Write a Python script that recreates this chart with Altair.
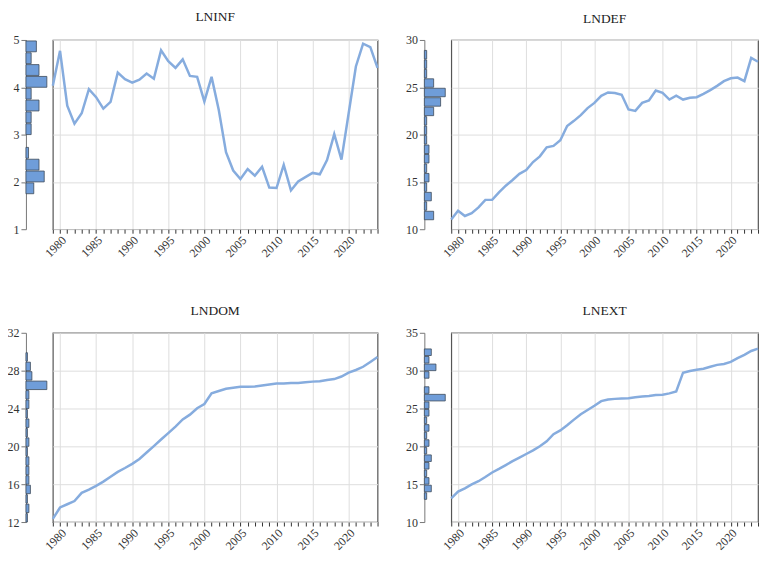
import altair as alt
import pandas as pd

years = list(range(1979, 2025))

lninf = [4.03, 4.77, 3.61, 3.23, 3.45, 3.96, 3.79, 3.55, 3.69, 4.31,
         4.17, 4.10, 4.16, 4.29, 4.18, 4.78, 4.55, 4.41, 4.59, 4.24,
         4.22, 3.70, 4.22, 3.52, 2.63, 2.24, 2.06, 2.27, 2.13, 2.32,
         1.88, 1.87, 2.36, 1.82, 2.01, 2.10, 2.19, 2.16, 2.46, 3.01,
         2.47, 3.45, 4.44, 4.92, 4.85, 4.41]

lndef = [11.02, 11.95, 11.40, 11.70, 12.30, 13.10, 13.10, 13.90, 14.60, 15.20,
         15.85, 16.25, 17.10, 17.70, 18.65, 18.80, 19.40, 20.90, 21.45, 22.05,
         22.80, 23.35, 24.10, 24.45, 24.40, 24.20, 22.65, 22.50, 23.35, 23.60,
         24.65, 24.40, 23.70, 24.10, 23.70, 23.90, 23.95, 24.30, 24.70, 25.15,
         25.65, 25.95, 26.02, 25.65, 28.10, 27.70]

lndom = [12.34, 13.54, 13.88, 14.22, 15.08, 15.42, 15.83, 16.27, 16.79, 17.30,
         17.71, 18.15, 18.67, 19.35, 20.03, 20.72, 21.40, 22.09, 22.84, 23.35,
         24.03, 24.48, 25.61, 25.85, 26.09, 26.19, 26.29, 26.29, 26.32, 26.43,
         26.53, 26.63, 26.63, 26.70, 26.70, 26.77, 26.84, 26.87, 27.02, 27.11,
         27.38, 27.79, 28.07, 28.41, 28.92, 29.44]

lnext = [13.13, 14.02, 14.45, 14.97, 15.39, 15.95, 16.55, 17.02, 17.53, 18.05,
         18.52, 18.99, 19.46, 20.02, 20.66, 21.60, 22.11, 22.80, 23.53, 24.25,
         24.81, 25.37, 25.97, 26.18, 26.27, 26.31, 26.35, 26.48, 26.57, 26.65,
         26.78, 26.82, 27.00, 27.25, 29.73, 29.95, 30.12, 30.25, 30.51, 30.76,
         30.89, 31.15, 31.66, 32.09, 32.60, 32.90]

titles = ["LNINF", "LNDEF", "LNDOM", "LNEXT"]
y_domains = [[1, 5], [10, 30], [12, 32], [10, 35]]
y_ticks = [[1, 2, 3, 4, 5], [10, 15, 20, 25, 30], [12, 16, 20, 24, 28, 32],
           [10, 15, 20, 25, 30, 35]]
bin_steps = [0.25, 1, 1, 1]

FONT = "Liberation Serif"
LINE_COLOR = "#86ACDE"
BAR_FILL = "#6F9DD9"
BAR_STROKE = "#3E4A5A"
GRID = "#DEDEDE"
FRAME = "#555555"
TITLE_OFFSET = 15
MAJOR = "datum.value % 5 === 0"


def title_params(text):
    return alt.TitleParams(text, font=FONT, fontSize=13.5, fontWeight="normal",
                           color="#222222", offset=TITLE_OFFSET)


def panel(name, values, ydom, yticks, step, line_w, plot_h):
    df = pd.DataFrame({"year": years, "value": values})
    yscale = alt.Scale(domain=ydom, nice=False, zero=False)
    hist = alt.Chart(df).mark_bar(
        fill=BAR_FILL, stroke=BAR_STROKE, strokeWidth=0.8
    ).encode(
        y=alt.Y("value:Q", bin=alt.Bin(step=step, extent=ydom, nice=False),
                scale=yscale,
                axis=alt.Axis(values=yticks, title=None, grid=False, format="d",
                              labelFont=FONT, labelFontSize=12, labelColor="#333333",
                              tickColor="#777777", domainColor="#777777",
                              tickSize=5, labelPadding=2,
                              minExtent=18, maxExtent=18)),
        x=alt.X("count():Q", scale=alt.Scale(nice=False, zero=True), axis=None),
    ).properties(width=21, height=plot_h,
                 view=alt.ViewBackground(stroke="transparent"))

    line = alt.Chart(df).mark_line(color=LINE_COLOR, strokeWidth=2.5).encode(
        x=alt.X("year:Q", scale=alt.Scale(domain=[1979, 2024], nice=False, zero=False),
                axis=alt.Axis(values=years, title=None,
                              labelExpr=MAJOR + " ? '' + datum.value : ''",
                              labelAngle=-45, labelAlign="right", labelBaseline="top",
                              labelFont=FONT, labelColor="#333333",
                              labelFontSize={"condition": {"test": MAJOR, "value": 12},
                                             "value": 0},
                              tickSize=4, tickColor="#333333", domain=False,
                              labelOverlap=False, labelFlush=False, labelPadding=1,
                              gridColor=GRID,
                              gridOpacity={"condition": {"test": MAJOR, "value": 1},
                                           "value": 0})),
        y=alt.Y("value:Q", scale=yscale,
                axis=alt.Axis(values=yticks, title=None, labels=False, ticks=False,
                              domain=False, gridColor=GRID, minExtent=0)),
    ).properties(
        width=line_w, height=plot_h, title=title_params(name),
        view=alt.ViewBackground(stroke=FRAME, strokeWidth=1.2),
    )
    return alt.hconcat(hist, line, spacing=6, bounds="flush")


series = [lninf, lndef, lndom, lnext]
widths = [326, 308, 326, 308]
heights = [190, 190, 190, 190]
panels = [panel(titles[i], series[i], y_domains[i], y_ticks[i], bin_steps[i],
                widths[i], heights[i])
          for i in range(4)]

row1 = alt.hconcat(panels[0], panels[1], spacing=21)
row2 = alt.hconcat(panels[2], panels[3], spacing=21)
chart = alt.vconcat(row1, row2, spacing=43).properties(
    padding={"left": -2, "top": 0, "right": 0, "bottom": 0}
).configure(background="white")

chart.save("out.html", embed_options={"renderer": "svg", "actions": False})
